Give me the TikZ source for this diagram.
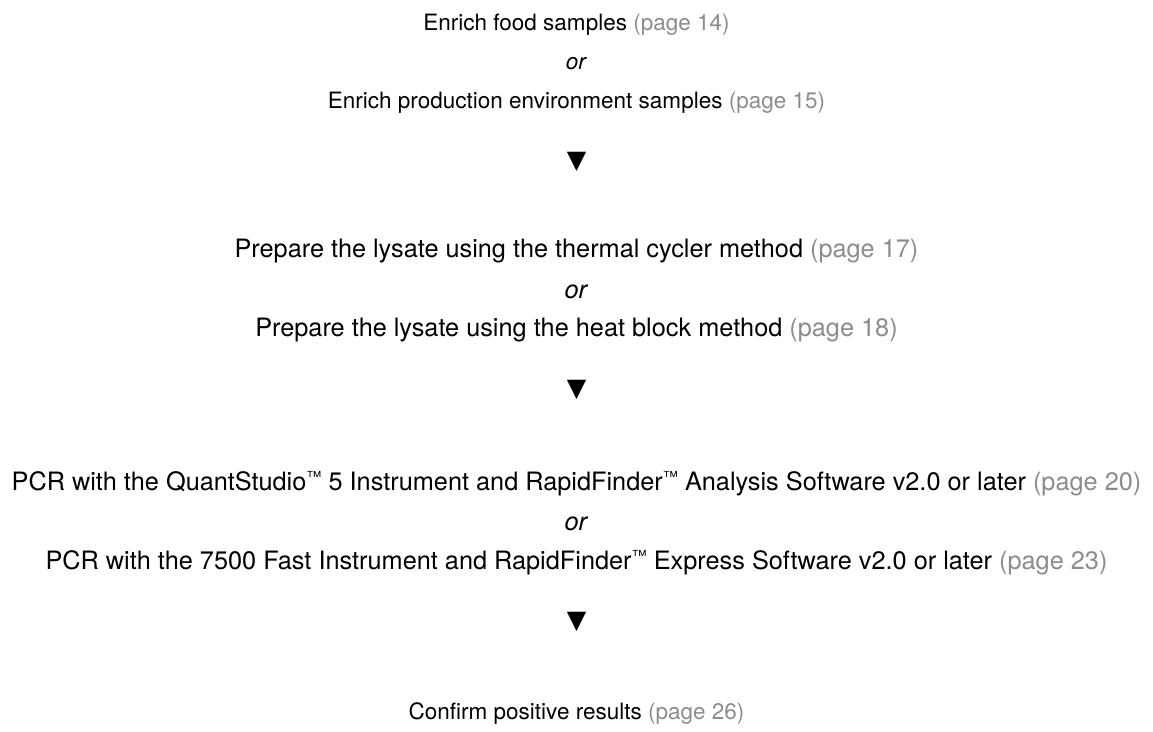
\documentclass[tikz,border=0pt]{standalone}
\usepackage{fontspec}
\setmainfont{TeX Gyre Heros}
\newfontfamily\symfont{DejaVu Sans}
\usepackage{xcolor}
\definecolor{pagegray}{RGB}{140,140,140}
\newcommand{\pg}[1]{\textcolor{pagegray}{(page #1)}}
\newcommand{\tm}{\raisebox{0.3em}{\scalebox{0.6}{™}}}
\newcommand{\down}{{\symfont ▼}}
\usepackage{tikz}

\begin{document}
\begin{tikzpicture}[every node/.style={inner sep=0pt, font=\fontsize{14.4}{17}\selectfont},
       small/.style={font=\fontsize{12.8}{15}\selectfont}]
       \useasboundingbox (0,0) rectangle (23.06,14.64);
       \node (food) at (11.53,14.15) [small] {Enrich food samples \pg{14}};
       \node (or1) at (11.53,13.37) [small] {\textit{or}};
       \node (prod) at (11.53,12.59) [small] {Enrich production environment samples \pg{15}};
       \node (tri1) at (11.53,11.41) {\down};
       \node (thermal) at (11.53,9.61) {Prepare the lysate using the thermal cycler method \pg{17}};
       \node (or2) at (11.53,8.81) {\textit{or}};
       \node (heat) at (11.53,8.03) {Prepare the lysate using the heat block method \pg{18}};
       \node (tri2) at (11.53,6.85) {\down};
       \node (quant) at (11.53,4.97) {PCR with the QuantStudio\tm{} 5 Instrument and RapidFinder\tm{} Analysis Software v2.0 or later \pg{20}};
       \node (or3) at (11.53,4.17) {\textit{or}};
       \node (fast) at (11.53,3.39) {PCR with the 7500 Fast Instrument and RapidFinder\tm{} Express Software v2.0 or later \pg{23}};
       \node (tri3) at (11.53,2.21) {\down};
       \node (confirm) at (11.53,0.37) [small] {Confirm positive results \pg{26}};
\end{tikzpicture}
\end{document}
